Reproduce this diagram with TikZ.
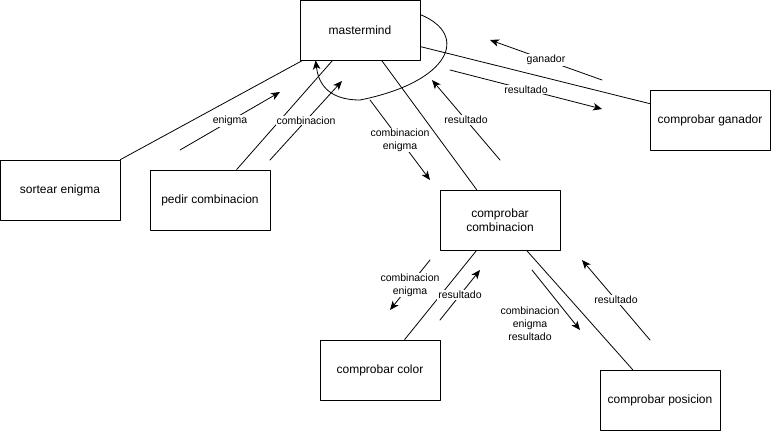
\documentclass[tikz,border=0pt]{standalone}
\usepackage{fontspec}
\setmainfont{Liberation Sans}
\usetikzlibrary{arrows.meta}

\begin{document}
\begin{tikzpicture}[line cap=round,line join=round,>={Stealth[length=9pt,width=7.5pt,inset=2.5pt]},x=1pt,y=-1pt,
		proc/.style={draw,line width=0.8pt,minimum width=120pt,minimum height=60pt,inner sep=0pt,align=center,font=\fontsize{12}{14}\selectfont},
		lbl/.style={fill=white,inner sep=1pt,align=center,font=\fontsize{10.5}{13}\selectfont},
		flow/.style={->,line width=0.8pt}]
		\useasboundingbox (0,0) rectangle (771,431);
		\node[proc] (mm) at (360,30) {mastermind};
		\node[proc] (se) at (60,190) {sortear enigma};
		\node[proc] (pc) at (210,200) {pedir combinacion};
		\node[proc] (cg) at (710,120) {comprobar ganador};
		\node[proc] (cc) at (500,220) {comprobar\\combinacion};
		\node[proc] (col) at (380,370) {comprobar color};
		\node[proc] (pos) at (660,400) {comprobar posicion};
		\draw[line width=0.8pt] (se.north east) -- ([xshift=3pt]mm.south west);
		\draw[line width=0.8pt] ([xshift=87pt]pc.north west) -- ([xshift=33pt]mm.south west);
		\draw[line width=0.8pt] ([xshift=82pt]mm.south west) -- ([xshift=37pt]cc.north west);
		\draw[line width=0.8pt] ([yshift=-47pt]mm.north east) -- ([yshift=-14pt]cg.north west);
		\draw[line width=0.8pt] ([xshift=37pt]cc.south west) -- ([xshift=85pt]col.north west);
		\draw[line width=0.8pt] ([xshift=87pt]cc.south west) -- ([xshift=33pt]pos.north west);
		\draw[flow] ([yshift=-15pt]mm.north east) .. controls (470,35) and (450,82) .. (360,100) .. controls (325,100) and (318,80) .. ([xshift=16pt]mm.south west);
		\coordinate (en1) at (180,150);
		\coordinate (en2) at (280,92);
		\coordinate (co1) at (270,160);
		\coordinate (co2) at (342,81);
		\coordinate (ce1) at (370,100);
		\coordinate (ce2) at (430,180);
		\coordinate (re1) at (500,160);
		\coordinate (re2) at (432,80);
		\coordinate (ga1) at (602,80);
		\coordinate (ga2) at (490,40);
		\coordinate (rg1) at (450,70);
		\coordinate (rg2) at (602,109);
		\coordinate (cf1) at (430,260);
		\coordinate (cf2) at (390,310);
		\coordinate (rc1) at (440,320);
		\coordinate (rc2) at (480,270);
		\coordinate (cp1) at (532,270);
		\coordinate (cp2) at (580,330);
		\coordinate (rp1) at (650,340);
		\coordinate (rp2) at (582,260);
		\draw[flow] (en1) -- node[lbl] {enigma} (en2);
		\draw[flow] (co1) -- node[lbl] {combinacion} (co2);
		\draw[flow] (ce1) -- node[lbl] {combinacion\\enigma} (ce2);
		\draw[flow] (re1) -- node[lbl] {resultado} (re2);
		\draw[flow] (ga1) -- node[lbl] {ganador} (ga2);
		\draw[flow] (rg1) -- node[lbl] {resultado} (rg2);
		\draw[flow] (cf1) -- node[lbl] {combinacion\\enigma} (cf2);
		\draw[flow] (rc1) -- node[lbl] {resultado} (rc2);
		\draw[flow] (cp1) -- (cp2);
		\node[lbl] (cpl) at (530,324) {combinacion\\enigma\\resultado};
		\draw[flow] (rp1) -- node[lbl] {resultado} (rp2);
\end{tikzpicture}
\end{document}
